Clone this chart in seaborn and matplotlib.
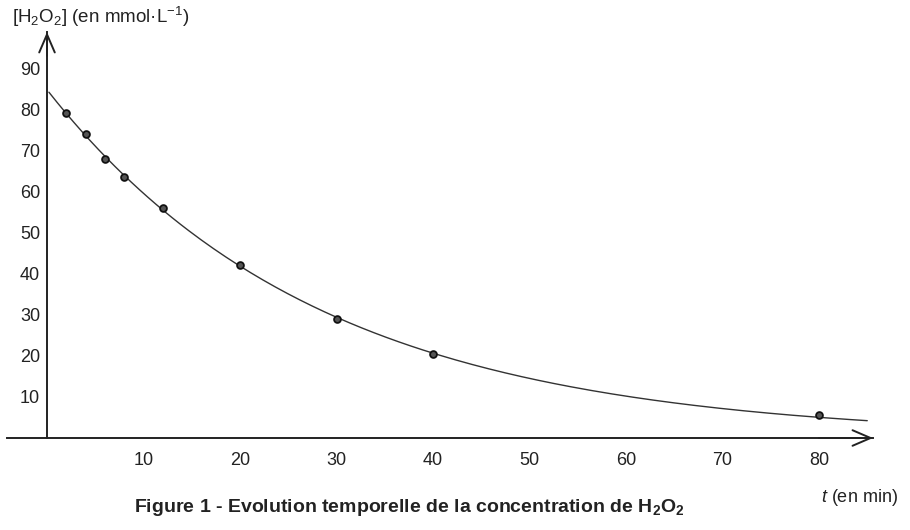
import matplotlib
matplotlib.use("Agg")
import matplotlib.pyplot as plt
import numpy as np
import pandas as pd
import seaborn as sns

TIME_MIN = [2, 4, 6, 8, 12, 20, 30, 40, 80]
CONC = [79, 74, 68, 63.5, 56, 42, 29, 20.5, 5.5]
X_TICKS = [10, 20, 30, 40, 50, 60, 70, 80]
Y_TICKS = [10, 20, 30, 40, 50, 60, 70, 80, 90]

INK = "#222222"

sns.set_style("white")
plt.rcParams["font.family"] = ["Liberation Sans", "DejaVu Sans"]
plt.rcParams["mathtext.fontset"] = "custom"
plt.rcParams["mathtext.rm"] = "Liberation Sans"
plt.rcParams["mathtext.it"] = "Liberation Sans:italic"
plt.rcParams["mathtext.bf"] = "Liberation Sans:bold"

points = pd.DataFrame({"t": TIME_MIN, "c": CONC})

# exponential fit of the measurements (weighted like a fit on c itself)
slope, intercept = np.polyfit(points["t"], np.log(points["c"]), 1, w=points["c"])
t_fit = np.linspace(0.2, 85, 200)
curve = pd.DataFrame({"t": t_fit, "c": np.exp(intercept + slope * t_fit)})

fig = plt.figure(figsize=(9.1, 5.3), dpi=100)
ax = fig.add_axes([0, 0, 1, 1])
ax.set_xlim(-47 / 9.65, (910 - 47) / 9.65)
ax.set_ylim((438 - 530) / 4.11, 438 / 4.11)

sns.lineplot(data=curve, x="t", y="c", ax=ax, color="#333333", lw=1.0)
sns.scatterplot(data=points, x="t", y="c", ax=ax, s=24, color="#555555",
                edgecolor="#111111", linewidth=1.3, zorder=3)

# axes through the origin with open arrow heads
for side in ["top", "right"]:
    ax.spines[side].set_visible(False)
ax.spines["left"].set_position(("data", 0))
ax.spines["bottom"].set_position(("data", 0))
ax.spines["left"].set_bounds(0, 98.8)
ax.spines["bottom"].set_bounds(-4.1, 85.6)
for side in ["left", "bottom"]:
    ax.spines[side].set_color(INK)
    ax.spines[side].set_linewidth(1.4)

arrow = dict(arrowstyle="->,head_length=0.65,head_width=0.28", lw=1.4,
             color=INK, mutation_scale=20, shrinkA=0, shrinkB=0)
ax.annotate("", xy=(85.6, 0), xytext=(80, 0), arrowprops=arrow)
ax.annotate("", xy=(0, 98.8), xytext=(0, 93), arrowprops=arrow)

ax.set_xticks(X_TICKS)
ax.set_yticks(Y_TICKS)
ax.tick_params(axis="x", length=0, pad=10, labelsize=13, labelcolor=INK)
ax.tick_params(axis="y", length=0, pad=5, labelsize=13, labelcolor=INK)
ax.set_xlabel("")
ax.set_ylabel("")

fig.text(12 / 910, 1 - 17 / 530, r"[H$_2$O$_2$] (en mmol·L$^{-1}$)",
         ha="left", va="center", fontsize=13.5, color=INK)
fig.text(898 / 910, 1 - 497 / 530, r"$t$ (en min)",
         ha="right", va="center", fontsize=13, color=INK)
fig.text(409 / 910, 1 - 508 / 530,
         r"Figure 1 - Evolution temporelle de la concentration de H$_\mathbf{2}$O$_\mathbf{2}$",
         ha="center", va="center", fontsize=14, fontweight="bold", color=INK)

fig.savefig("out.png", dpi=100)
